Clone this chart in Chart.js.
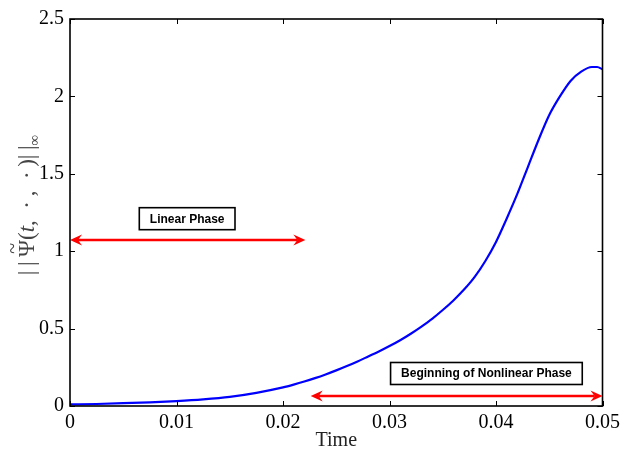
<!DOCTYPE html>
<html>
<head>
<meta charset="utf-8">
<script src="https://cdn.jsdelivr.net/npm/chart.js"></script>
<style>
  html, body { margin: 0; padding: 0; background: #fff; }
  #wrap { width: 625px; height: 459px; }
</style>
</head>
<body>
<div id="wrap"><canvas id="normChart" width="625" height="459"></canvas></div>
<script>
// time samples and the sup-norm
const times = [0, 0.0025, 0.005, 0.0075, 0.01, 0.0125, 0.015, 0.0175, 0.02,
  0.021, 0.022, 0.023, 0.024, 0.025, 0.026, 0.027, 0.028, 0.029, 0.03,
  0.031, 0.032, 0.033, 0.034, 0.035, 0.036, 0.037, 0.038, 0.039, 0.04,
  0.041, 0.042, 0.043, 0.044, 0.045, 0.046, 0.047, 0.048, 0.049, 0.0495, 0.05];
const normValues = [0.01, 0.013, 0.018, 0.024, 0.032, 0.043, 0.059, 0.085, 0.12,
  0.138, 0.158, 0.18, 0.204, 0.23, 0.258, 0.288, 0.32, 0.352, 0.387,
  0.425, 0.467, 0.513, 0.563, 0.62, 0.682, 0.752, 0.834, 0.937, 1.06,
  1.21, 1.37, 1.545, 1.72, 1.88, 2.0, 2.1, 2.16, 2.19, 2.19, 2.175];

const xTicks = [0, 0.01, 0.02, 0.03, 0.04, 0.05];
const xTickLabels = ['0', '0.01', '0.02', '0.03', '0.04', '0.05'];
const yTicks = [0, 0.5, 1, 1.5, 2, 2.5];
const yTickLabels = ['0', '0.5', '1', '1.5', '2', '2.5'];

// phase arrows: [tStart, tEnd, level]
const linearArrow = [0, 0.0221, 1.072];
const nonlinearArrow = [0.0226, 0.05, 0.065];
// phase labels: [text, tCenter, levelCenter]
const phaseLabels = [
  ['Linear Phase', 0.01100, 1.21],
  ['Beginning of Nonlinear Phase', 0.0391, 0.21]
];

const serif = '"Liberation Serif", "Times New Roman", serif';

function drawArrowHead(ctx, x, y, dir) {
  // dir = -1 points left, 1 points right
  ctx.beginPath();
  ctx.moveTo(x, y);
  ctx.lineTo(x - dir * 12, y - 5.5);
  ctx.lineTo(x - dir * 8, y);
  ctx.lineTo(x - dir * 12, y + 5.5);
  ctx.closePath();
  ctx.fill();
}

const decorations = {
  id: 'decorations',
  afterDatasetsDraw(chart) {
    const {ctx, scales: {x, y}} = chart;
    ctx.save();

    // red double arrows
    ctx.strokeStyle = '#ff0000';
    ctx.fillStyle = '#ff0000';
    ctx.lineWidth = 2.5;
    [linearArrow, nonlinearArrow].forEach(arr => {
      const x0 = x.getPixelForValue(arr[0]);
      const x1 = x.getPixelForValue(arr[1]);
      const yy = y.getPixelForValue(arr[2]);
      ctx.beginPath();
      ctx.moveTo(x0 + 8, yy);
      ctx.lineTo(x1 - 8, yy);
      ctx.stroke();
      drawArrowHead(ctx, x0, yy, -1);
      drawArrowHead(ctx, x1, yy, 1);
    });

    // boxed text labels
    ctx.font = 'bold 12px "Liberation Sans", Arial, sans-serif';
    ctx.textAlign = 'center';
    ctx.textBaseline = 'middle';
    phaseLabels.forEach(([txt, t, v]) => {
      const cx = x.getPixelForValue(t);
      const cy = y.getPixelForValue(v);
      const w = ctx.measureText(txt).width + 21;
      const h = 22;
      ctx.fillStyle = '#fff';
      ctx.fillRect(cx - w / 2, cy - h / 2, w, h);
      ctx.strokeStyle = '#000';
      ctx.lineWidth = 1.6;
      ctx.strokeRect(cx - w / 2, cy - h / 2, w, h);
      ctx.fillStyle = '#000';
      ctx.fillText(txt, cx, cy + 0.5);
    });
    ctx.restore();
  },
  afterDraw(chart) {
    const {ctx, chartArea: a, scales: {x, y}} = chart;
    ctx.save();
    // inward ticks, matlab style
    ctx.strokeStyle = '#000';
    ctx.lineWidth = 1;
    ctx.beginPath();
    xTicks.forEach(v => {
      const px = Math.round(x.getPixelForValue(v)) + 0.5;
      ctx.moveTo(px, a.bottom); ctx.lineTo(px, a.bottom - 5);
      ctx.moveTo(px, a.top); ctx.lineTo(px, a.top + 5);
    });
    yTicks.forEach(v => {
      const py = Math.round(y.getPixelForValue(v)) + 0.5;
      ctx.moveTo(a.left, py); ctx.lineTo(a.left + 5, py);
      ctx.moveTo(a.right, py); ctx.lineTo(a.right - 5, py);
    });
    ctx.stroke();
    // axes box
    ctx.lineWidth = 1.6;
    ctx.strokeRect(a.left, a.top, a.right - a.left, a.bottom - a.top);

    // y axis title: ||Psi~(t, ., .)||_inf, drawn piece by piece
    ctx.translate(26, 205);
    ctx.rotate(-Math.PI / 2);
    ctx.fillStyle = '#444';
    ctx.textBaseline = 'alphabetic';
    ctx.textAlign = 'left';
    const f = '23px ' + serif;
    const parts = [
      ['|\u2009|\u2009', f, 0],
      ['\u03A8', f, 0],
      ['(', f, 0],
      ['t', 'italic 23px ' + serif, 0],
      [',\u2002\u00B7\u2009,\u2002\u00B7\u2009)', f, 0],
      ['|\u2009|', f, 0],
      ['\u221E', '15px ' + serif, 5]
    ];
    let total = 0;
    parts.forEach(p => { ctx.font = p[1]; total += ctx.measureText(p[0]).width; });
    let cx = -total / 2;
    const base = 8;
    parts.forEach(p => {
      ctx.font = p[1];
      const w = ctx.measureText(p[0]).width;
      ctx.fillText(p[0], cx, base + p[2]);
      if (p[0] === '\u03A8') {
        ctx.font = '20px ' + serif;
        ctx.textAlign = 'center';
        ctx.fillText('~', cx + w / 2, base - 15);
        ctx.textAlign = 'left';
      }
      cx += w;
    });
    ctx.restore();
  }
};

new Chart(document.getElementById('normChart'), {
  type: 'line',
  data: {
    datasets: [{
      data: times.map((t, i) => ({x: t, y: normValues[i]})),
      borderColor: '#0000ff',
      borderWidth: 2.2,
      pointRadius: 0,
      cubicInterpolationMode: 'monotone',
      fill: false
    }]
  },
  options: {
    responsive: false,
    animation: false,
    layout: {padding: {left: 0, right: 22, top: 19, bottom: 0}},
    plugins: {legend: {display: false}, tooltip: {enabled: false}},
    scales: {
      x: {
        type: 'linear',
        min: 0,
        max: 0.05,
        afterBuildTicks: s => { s.ticks = xTicks.map(v => ({value: v})); },
        afterFit: s => { s.height = 53; },
        grid: {display: false, drawTicks: false},
        border: {display: false},
        ticks: {
          padding: 5,
          color: '#000',
          font: {family: serif, size: 20},
          maxRotation: 0,
          callback: (v, i) => xTickLabels[i]
        },
        title: {
          display: true,
          text: 'Time',
          color: '#222',
          font: {family: serif, size: 20},
          padding: {top: 0, bottom: 6}
        }
      },
      y: {
        min: 0,
        max: 2.5,
        afterBuildTicks: s => { s.ticks = yTicks.map(v => ({value: v})); },
        afterFit: s => { s.width = 70; },
        grid: {display: false, drawTicks: false},
        border: {display: false},
        ticks: {
          padding: 6,
          color: '#000',
          font: {family: serif, size: 20},
          callback: (v, i) => yTickLabels[i]
        }
      }
    }
  },
  plugins: [decorations]
});
</script>
</body>
</html>
